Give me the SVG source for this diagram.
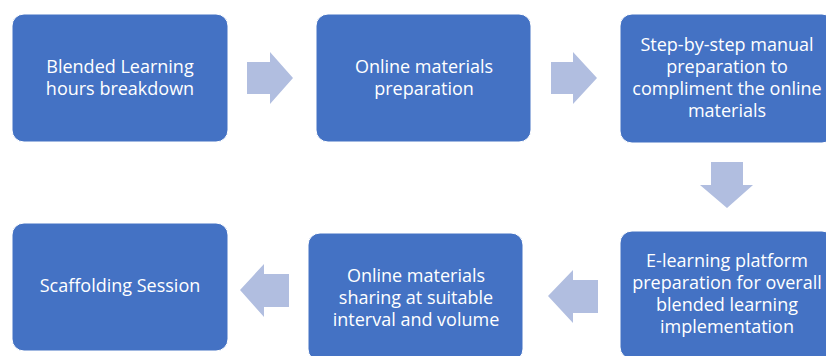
<svg xmlns="http://www.w3.org/2000/svg" width="826" height="356" viewBox="0 0 826 356">
<style>
.box{fill:#4472C4;stroke:#FFFFFF;stroke-width:1}
.lbl{font-family:"Open Sans","Liberation Sans",sans-serif;font-size:18px;fill:#FFFFFF;text-anchor:middle}
.arr{fill:#B1BEE0;stroke:none}
</style>
<rect width="826" height="356" fill="#FFFFFF"/>
<g id="n1">
<rect class="box" x="12" y="14" width="216" height="128" rx="12"/>
<text class="lbl" x="120" y="73">Blended Learning</text>
<text class="lbl" x="120" y="95">hours breakdown</text>
</g>
<g id="n2">
<rect class="box" x="316" y="14" width="215" height="128" rx="12"/>
<text class="lbl" x="424" y="73">Online materials</text>
<text class="lbl" x="424" y="95">preparation</text>
</g>
<g id="n3">
<rect class="box" x="620" y="14" width="214" height="129" rx="12"/>
<text class="lbl" x="727" y="51">Step-by-step manual</text>
<text class="lbl" x="727" y="73">preparation to</text>
<text class="lbl" x="727" y="95">compliment the online</text>
<text class="lbl" x="727" y="117">materials</text>
</g>
<g id="n4">
<rect class="box" x="620" y="231" width="214" height="128" rx="12"/>
<text class="lbl" x="727" y="267">E-learning platform</text>
<text class="lbl" x="727" y="289">preparation for overall</text>
<text class="lbl" x="727" y="311">blended learning</text>
<text class="lbl" x="727" y="333">implementation</text>
</g>
<g id="n5">
<rect class="box" x="308" y="233" width="215" height="128" rx="12"/>
<text class="lbl" x="416" y="282">Online materials</text>
<text class="lbl" x="416" y="304">sharing at suitable</text>
<text class="lbl" x="416" y="326">interval and volume</text>
</g>
<g id="n6">
<rect class="box" x="12" y="223" width="216" height="128" rx="12"/>
<text class="lbl" x="120" y="292">Scaffolding Session</text>
</g>
<g id="connectors">
<polygon class="arr" points="247,62 270,62 270,52 293,78 270,104 270,94 247,94"/>
<polygon class="arr" points="551,62 573,62 573,52 597,78 573,104 573,94 551,94"/>
<polygon class="arr" points="711,162 743,162 743,185 753,185 727,208 700,185 711,185"/>
<polygon class="arr" points="598,280 573,280 573,270 548,296 573,323 573,313 598,313"/>
<polygon class="arr" points="289,274 264,274 264,264 240,290 264,317 264,307 289,307"/>
</g>
</svg>
